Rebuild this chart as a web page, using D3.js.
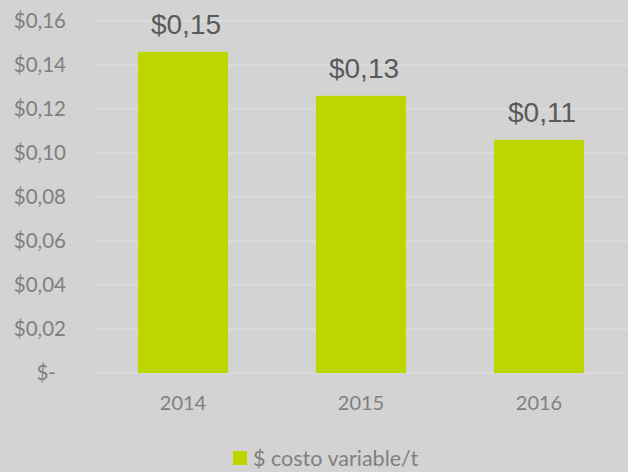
<!DOCTYPE html>
<html>
<head>
<meta charset="utf-8">
<script src="https://cdn.jsdelivr.net/npm/d3@7"></script>
<style>
  body { margin: 0; background: #d3d3d3; }
  svg { display: block; }
</style>
</head>
<body>
<svg class="canvas" width="628" height="472"></svg>
<script>
// chart data
var years = ['2014', '2015', '2016'];
var costo = [0.146, 0.126, 0.106];
var valueLabels = ['$0,15', '$0,13', '$0,11'];
var yTicks = [0, 0.02, 0.04, 0.06, 0.08, 0.10, 0.12, 0.14, 0.16];
var seriesName = '$ costo variable/t';

const canvas = d3.select('.canvas');

canvas.append('rect')
    .attr('width', 628)
    .attr('height', 472)
    .attr('fill', '#d3d3d3');

var x = d3.scaleBand()
    .domain(years)
    .range([94, 628])
    .paddingInner(0.494)
    .paddingOuter(0.247);

var y = d3.scaleLinear()
    .domain([0, 0.16])
    .range([373, 21]);

var fmt = function(d) {
    if (d === 0) return '$-';
    return '$' + d3.format('.2f')(d).replace('.', ',');
};

// gridlines
canvas.append('g')
    .selectAll('line')
    .data(yTicks)
    .enter()
    .append('line')
    .attr('x1', 94)
    .attr('x2', 628)
    .attr('y1', d => y(d))
    .attr('y2', d => y(d))
    .attr('stroke', '#dddddd')
    .attr('stroke-width', 1.5);

// y axis labels
var yAxis = d3.axisLeft(y).tickValues(yTicks).tickFormat(fmt).tickSize(0).tickPadding(0);
var gy = canvas.append('g')
    .attr('transform', 'translate(66,0)')
    .call(yAxis);
gy.select('.domain').remove();
gy.selectAll('text')
    .attr('fill', '#808080')
    .style('font-family', 'Lato, "Open Sans", sans-serif')
    .style('font-size', '20.5px')
    .attr('dx', d => d === 0 ? -10 : 0);

// bars
canvas.append('g')
    .selectAll('rect')
    .data(costo)
    .enter()
    .append('rect')
    .attr('x', (d, i) => x(years[i]))
    .attr('width', x.bandwidth())
    .attr('y', d => y(d))
    .attr('height', d => y(0) - y(d))
    .attr('fill', '#bed600');

// value labels
canvas.append('g')
    .selectAll('text')
    .data(costo)
    .enter()
    .append('text')
    .attr('x', (d, i) => x(years[i]) + x.bandwidth() / 2 + 3)
    .attr('y', d => y(d) - 18)
    .attr('text-anchor', 'middle')
    .attr('fill', '#5a5a5a')
    .style('font-family', '"Liberation Sans", Arial, sans-serif')
    .style('font-size', '28px')
    .text((d, i) => valueLabels[i]);

// x axis labels
var xAxis = d3.axisBottom(x).tickSize(0).tickPadding(0);
var gx = canvas.append('g')
    .attr('transform', 'translate(0,396)')
    .call(xAxis);
gx.select('.domain').remove();
gx.selectAll('text')
    .attr('fill', '#808080')
    .style('font-family', 'Lato, "Open Sans", sans-serif')
    .style('font-size', '20px');

// legend
var legend = canvas.append('g').attr('transform', 'translate(233,451)');
legend.append('rect')
    .attr('width', 14)
    .attr('height', 14)
    .attr('fill', '#bed600');
legend.append('text')
    .attr('x', 20)
    .attr('y', 15)
    .attr('fill', '#808080')
    .style('font-family', 'Lato, "Open Sans", sans-serif')
    .style('font-size', '21.5px')
    .text(seriesName);
</script>
</body>
</html>
